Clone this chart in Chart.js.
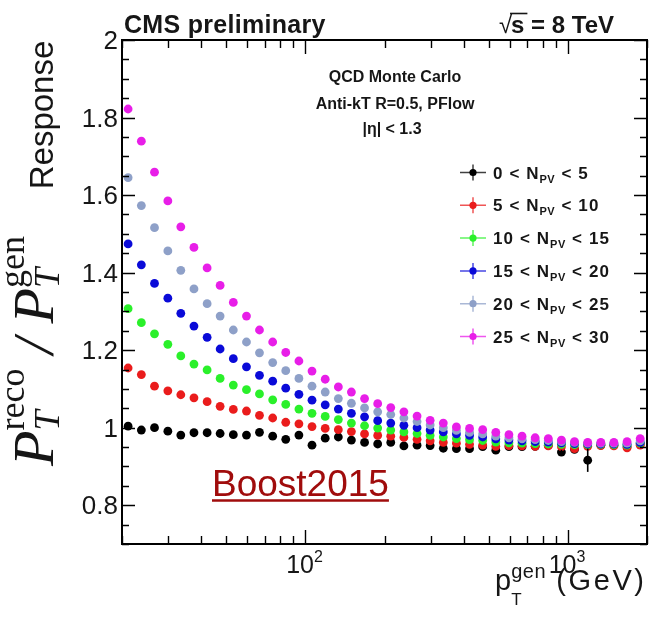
<!DOCTYPE html>
<html>
<head>
<meta charset="utf-8">
<script src="https://cdn.jsdelivr.net/npm/chart.js@4.4.1/dist/chart.umd.min.js"></script>
<style>
  html, body { margin: 0; padding: 0; background: #fff; }
  canvas { display: block; }
</style>
</head>
<body>
<canvas id="c" width="652" height="621"></canvas>
<script>
// Generator-level jet pT bin centres (GeV)
const ptGen = [21.1, 23.7, 26.6, 29.9, 33.5, 37.6, 42.2, 47.3, 53.1, 59.6,
               66.8, 75.0, 84.1, 94.4, 105.9, 118.9, 133.4, 149.6, 167.9, 188.4,
               211.3, 237.1, 266.1, 298.5, 335.0, 375.8, 421.7, 473.2, 530.9, 595.7,
               668.3, 749.9, 841.4, 944.1, 1059, 1189, 1334, 1496, 1679, 1884];

// Response pT(reco)/pT(gen) per pile-up bin
const resp0to5 = [1.004, 0.994, 1.000, 0.991, 0.981, 0.987, 0.987, 0.985, 0.982, 0.981,
                  0.988, 0.978, 0.970, 0.981, 0.955, 0.973, 0.976, 0.968, 0.962, 0.958,
                  0.962, 0.953, 0.955, 0.954, 0.947, 0.946, 0.946, 0.951, 0.942, 0.951,
                  0.951, 0.952, 0.955, 0.937, 0.944, 0.916, 0.955, 0.955, 0.951, 0.958];
const resp5to10 = [1.154, 1.137, 1.107, 1.095, 1.085, 1.077, 1.067, 1.055, 1.047, 1.043,
                   1.032, 1.025, 1.014, 1.010, 1.003, 0.998, 0.995, 0.990, 0.984, 0.980,
                   0.978, 0.975, 0.970, 0.966, 0.962, 0.960, 0.957, 0.955, 0.952, 0.954,
                   0.953, 0.952, 0.953, 0.951, 0.946, 0.952, 0.954, 0.953, 0.948, 0.955];
const resp10to15 = [1.307, 1.271, 1.242, 1.215, 1.185, 1.164, 1.149, 1.127, 1.110, 1.098,
                    1.087, 1.072, 1.060, 1.048, 1.037, 1.029, 1.021, 1.012, 1.005, 0.999,
                    0.994, 0.989, 0.985, 0.980, 0.976, 0.972, 0.969, 0.967, 0.963, 0.961,
                    0.960, 0.959, 0.958, 0.957, 0.956, 0.956, 0.957, 0.956, 0.955, 0.960];
const resp15to20 = [1.474, 1.420, 1.372, 1.334, 1.295, 1.262, 1.233, 1.203, 1.178, 1.157,
                    1.135, 1.120, 1.102, 1.086, 1.071, 1.059, 1.048, 1.037, 1.028, 1.018,
                    1.012, 1.006, 1.000, 0.994, 0.989, 0.984, 0.980, 0.976, 0.971, 0.968,
                    0.966, 0.964, 0.963, 0.961, 0.959, 0.958, 0.958, 0.958, 0.957, 0.962];
const resp20to25 = [1.645, 1.573, 1.516, 1.456, 1.406, 1.358, 1.320, 1.288, 1.252, 1.221,
                    1.193, 1.168, 1.147, 1.127, 1.107, 1.092, 1.075, 1.063, 1.051, 1.041,
                    1.034, 1.025, 1.016, 1.007, 1.000, 0.993, 0.988, 0.984, 0.978, 0.974,
                    0.971, 0.969, 0.967, 0.964, 0.962, 0.960, 0.960, 0.960, 0.960, 0.966];
const resp25to30 = [1.822, 1.739, 1.659, 1.585, 1.518, 1.465, 1.412, 1.367, 1.323, 1.288,
                    1.252, 1.221, 1.194, 1.172, 1.146, 1.125, 1.105, 1.092, 1.075, 1.062,
                    1.052, 1.041, 1.030, 1.019, 1.012, 1.002, 0.998, 0.995, 0.988, 0.982,
                    0.978, 0.974, 0.972, 0.968, 0.964, 0.962, 0.962, 0.962, 0.964, 0.972];

// Statistical uncertainty of the lowest pile-up bin (others are smaller than the markers)
const err0to5 = [0, 0, 0, 0, 0, 0, 0, 0, 0, 0,
                 0, 0, 0, 0, 0, 0, 0, 0, 0, 0,
                 0, 0, 0, 0, 0, 0, 0, 0, 0, 0,
                 0, 0, 0, 0.006, 0, 0.03, 0, 0, 0, 0];

// N_PV bin edges and marker colours
const npvBins = [['0', '5'], ['5', '10'], ['10', '15'], ['15', '20'], ['20', '25'], ['25', '30']];
const seriesColors = ['#000000', '#ea1c1c', '#2af02a', '#0a0ad8', '#8ea0c8', '#e81ee8'];
const seriesValues = [resp0to5, resp5to10, resp10to15, resp15to20, resp20to25, resp25to30];

// Axis labels
const yTickValues = [0.8, 1.0, 1.2, 1.4, 1.6, 1.8, 2.0];
const yTickLabels = ['0.8', '1', '1.2', '1.4', '1.6', '1.8', '2'];
const xDecadeValues = [100, 1000];
const xDecadeLabels = [['10', '2'], ['10', '3']];

const SANS = '"Liberation Sans", Arial, Helvetica, sans-serif';
const SERIF = '"Liberation Serif", "Times New Roman", serif';
const INK = '#161616';

const datasets = seriesValues.map((vals, s) => ({
  label: npvBins[s][0] + ' < NPV < ' + npvBins[s][1],
  data: ptGen.map((pt, i) => ({ x: pt, y: vals[i] })),
  backgroundColor: seriesColors[s],
  borderColor: seriesColors[s],
  borderWidth: 0,
  pointRadius: 4.4,
  pointHoverRadius: 4.4,
  showLine: false,
  order: 5 - s
}));

// Width of a string with extra letter spacing
function spacedWidth(ctx, t, ls) {
  let w = 0;
  for (const ch of t) w += ctx.measureText(ch).width + ls;
  return w - ls;
}
// Draw a string with extra letter spacing; returns advance
function fillSpaced(ctx, t, x, y, ls) {
  if (!ls) { ctx.fillText(t, x, y); return ctx.measureText(t).width; }
  let cx = x;
  for (const ch of t) { ctx.fillText(ch, cx, y); cx += ctx.measureText(ch).width + ls; }
  return cx - x - ls;
}
// Text runs with optional sub/superscript stacks
function runWidth(ctx, r) {
  if (r.stack) {
    let m = 0;
    for (const p of r.stack) { ctx.font = p.font; m = Math.max(m, spacedWidth(ctx, p.t, p.ls || 0)); }
    return m;
  }
  ctx.font = r.font;
  return spacedWidth(ctx, r.t, r.ls || 0) + (r.gap || 0);
}
function measureRuns(ctx, runs) {
  return runs.reduce((w, r) => w + runWidth(ctx, r), 0);
}
function drawRuns(ctx, runs, x, y) {
  let cx = x;
  for (const r of runs) {
    const w = runWidth(ctx, r);
    if (r.stack) {
      for (const p of r.stack) { ctx.font = p.font; fillSpaced(ctx, p.t, cx, y + p.dy, p.ls || 0); }
    } else {
      ctx.font = r.font;
      fillSpaced(ctx, r.t, cx, y + (r.dy || 0), r.ls || 0);
    }
    cx += w;
  }
  return cx - x;
}

const errorBars = {
  id: 'errorBars',
  afterDatasetsDraw(chart) {
    const { ctx, scales: { x, y } } = chart;
    ctx.save();
    ctx.strokeStyle = '#000';
    ctx.lineWidth = 1.6;
    ptGen.forEach((pt, i) => {
      const e = err0to5[i];
      if (!e) return;
      const px = x.getPixelForValue(pt);
      ctx.beginPath();
      ctx.moveTo(px, y.getPixelForValue(resp0to5[i] - e));
      ctx.lineTo(px, y.getPixelForValue(resp0to5[i] + e));
      ctx.stroke();
    });
    ctx.restore();
  }
};

const decorations = {
  id: 'decorations',
  afterDraw(chart) {
    const { ctx, chartArea: a, scales: { x, y } } = chart;
    ctx.save();

    // Frame
    ctx.strokeStyle = '#000';
    ctx.lineWidth = 2;
    ctx.strokeRect(a.left, a.top, a.right - a.left, a.bottom - a.top);

    // Y ticks every 0.05, major every 0.2, on both sides
    ctx.lineWidth = 1.4;
    for (let i = 14; i <= 40; i++) {
      const v = i * 0.05;
      const py = Math.round(y.getPixelForValue(v)) + 0.5;
      const len = (i % 4 === 0) ? 13 : 7;
      ctx.beginPath();
      ctx.moveTo(a.left, py); ctx.lineTo(a.left + len, py);
      ctx.moveTo(a.right, py); ctx.lineTo(a.right - len, py);
      ctx.stroke();
    }

    // X log ticks, top and bottom
    for (const d of [10, 100, 1000]) {
      for (let m = 1; m <= 9; m++) {
        const v = m * d;
        if (v < 20 || v > 2000) continue;
        const px = Math.round(x.getPixelForValue(v)) + 0.5;
        const len = (m === 1) ? 14 : 8;
        ctx.beginPath();
        ctx.moveTo(px, a.bottom); ctx.lineTo(px, a.bottom - len);
        ctx.moveTo(px, a.top); ctx.lineTo(px, a.top + len);
        ctx.stroke();
      }
    }

    ctx.fillStyle = INK;

    // Y tick labels
    ctx.font = '26px ' + SANS;
    ctx.textAlign = 'right';
    ctx.textBaseline = 'middle';
    yTickValues.forEach((v, i) => {
      ctx.fillText(yTickLabels[i], a.left - 4, y.getPixelForValue(v) + 2);
    });

    // X decade labels 10^n
    ctx.textAlign = 'left';
    ctx.textBaseline = 'alphabetic';
    xDecadeValues.forEach((v, i) => {
      const runs = [
        { t: xDecadeLabels[i][0], font: '25px ' + SANS },
        { t: xDecadeLabels[i][1], font: '16px ' + SANS, dy: -11 }
      ];
      const w = measureRuns(ctx, runs);
      drawRuns(ctx, runs, x.getPixelForValue(v) - w / 2 - 1, 573);
    });

    // X axis title: p_T^gen (GeV)
    {
      const runs = [
        { t: 'p', font: '29px ' + SANS },
        { stack: [ { t: 'gen', font: '20px ' + SANS, dy: -12, ls: 0.5 }, { t: 'T', font: '17px ' + SANS, dy: 15 } ] },
        { t: ' (GeV)', font: '29px ' + SANS, ls: 2.6 }
      ];
      const w = measureRuns(ctx, runs);
      drawRuns(ctx, runs, 644 - w, 590);
    }

    // Y axis title: Response
    ctx.save();
    ctx.translate(53, 115);
    ctx.rotate(-Math.PI / 2);
    ctx.textAlign = 'center';
    ctx.font = '33px ' + SANS;
    ctx.fillText('Response', 0, 0);
    ctx.restore();

    // Y axis title: P_T^reco / P_T^gen
    ctx.save();
    ctx.translate(53, 351);
    ctx.rotate(-Math.PI / 2);
    ctx.textAlign = 'left';
    {
      const big = 'italic 58px ' + SERIF;
      const small = '36px ' + SERIF;
      const smallIt = 'italic 36px ' + SERIF;
      const runs = [
        { t: 'P', font: big },
        { stack: [ { t: 'reco', font: small, dy: -29 }, { t: 'T', font: smallIt, dy: 6 } ] },
        { t: ' / ', font: big },
        { t: 'P', font: big },
        { stack: [ { t: 'gen', font: small, dy: -29 }, { t: 'T', font: smallIt, dy: 6 } ] }
      ];
      const w = measureRuns(ctx, runs);
      drawRuns(ctx, runs, -w / 2, 0);
    }
    ctx.restore();

    // Header
    ctx.font = 'bold 25px ' + SANS;
    ctx.textAlign = 'left';
    drawRuns(ctx, [{ t: 'CMS preliminary', font: 'bold 25px ' + SANS, ls: 0.3 }], 124, 33);
    {
      const rest = 's = 8 TeV';
      ctx.font = 'bold 24px ' + SANS;
      const wRest = ctx.measureText(rest).width;
      const xRight = 614;
      const xs = xRight - wRest;
      ctx.fillText(rest, xs, 33);
      const wS = ctx.measureText('s').width;
      // radical sign with bar over the s
      ctx.font = '24px ' + SANS;
      const wRad = ctx.measureText('\u221A').width;
      ctx.fillText('\u221A', xs - wRad + 1, 33);
      ctx.strokeStyle = INK;
      ctx.lineWidth = 1.6;
      ctx.beginPath();
      ctx.moveTo(xs - 1, 13.5);
      ctx.lineTo(xs + wS + 3, 13.5);
      ctx.stroke();
    }

    // Sample description
    ctx.textAlign = 'center';
    ctx.font = 'bold 16px ' + SANS;
    ctx.fillText('QCD Monte Carlo', 395, 82);
    ctx.fillText('Anti-kT R=0.5, PFlow', 395, 109);
    ctx.fillText('|\u03B7| < 1.3', 392, 134);

    // Legend
    ctx.textAlign = 'left';
    const legTop = 172.5, legStep = 32.8;
    npvBins.forEach((b, s) => {
      const ly = legTop + s * legStep;
      const mx = 473;
      ctx.strokeStyle = seriesColors[s];
      ctx.globalAlpha = 0.75;
      ctx.lineWidth = 1.5;
      ctx.beginPath();
      ctx.moveTo(mx - 13, ly); ctx.lineTo(mx + 13, ly);
      ctx.moveTo(mx, ly - 8); ctx.lineTo(mx, ly + 8);
      ctx.stroke();
      ctx.globalAlpha = 1;
      ctx.fillStyle = seriesColors[s];
      ctx.beginPath();
      ctx.arc(mx, ly, 3.6, 0, Math.PI * 2);
      ctx.fill();
      ctx.fillStyle = INK;
      drawRuns(ctx, [
        { t: b[0] + ' < N', font: 'bold 17px ' + SANS, ls: 1.1, gap: 1 },
        { t: 'PV', font: 'bold 11px ' + SANS, dy: 4, ls: 0.5, gap: 1 },
        { t: ' < ' + b[1], font: 'bold 17px ' + SANS, ls: 1.1 }
      ], 493, ly + 6);
    });

    // Conference tag
    ctx.fillStyle = '#a00c0c';
    ctx.strokeStyle = '#a00c0c';
    ctx.font = '37px ' + SANS;
    ctx.fillText('Boost2015', 212, 496);
    const bw = ctx.measureText('Boost2015').width;
    ctx.lineWidth = 2.6;
    ctx.beginPath();
    ctx.moveTo(212, 500.5); ctx.lineTo(212 + bw, 500.5);
    ctx.stroke();

    ctx.restore();
  }
};

new Chart(document.getElementById('c'), {
  type: 'scatter',
  data: { datasets },
  options: {
    responsive: false,
    animation: false,
    devicePixelRatio: 1,
    layout: { padding: { left: 122, right: 5, top: 40, bottom: 77 } },
    scales: {
      x: { type: 'logarithmic', min: 20, max: 2000, display: false },
      y: { type: 'linear', min: 0.7, max: 2.0, display: false }
    },
    plugins: { legend: { display: false }, tooltip: { enabled: false } },
    events: []
  },
  plugins: [errorBars, decorations]
});
</script>
</body>
</html>
